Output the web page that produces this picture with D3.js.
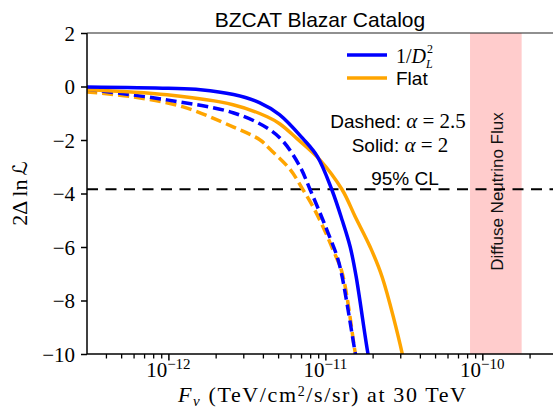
<!DOCTYPE html>
<html><head><meta charset="utf-8">
<script src="https://cdn.jsdelivr.net/npm/d3@7"></script>
<style>body{margin:0;background:#fff}svg{display:block}</style>
</head><body><svg id="c" width="553" height="410"></svg>
<script>
// ---- data ----
const blueSolidF = [3.0e-13, 1.0e-12, 1.6e-12, 2.6e-12, 3.8e-12, 5.1e-12, 7.2e-12, 8.9e-12, 1.1e-11, 1.28e-11, 1.44e-11, 1.57e-11, 1.87e-11, 1.95e-11];
const blueSolidV = [-0.02, -0.07, -0.12, -0.3, -0.6, -1.05, -1.95, -2.62, -3.86, -5.0, -6.0, -7.1, -10.0, -10.5];
const orangeSolidF = [3.0e-13, 9.8e-13, 2.58e-12, 4.26e-12, 5.14e-12, 6.6e-12, 9.23e-12, 1.28e-11, 1.55e-11, 1.93e-11, 2.30e-11, 3.08e-11, 3.2e-11];
const orangeSolidV = [-0.12, -0.31, -0.68, -1.13, -1.4, -1.95, -2.74, -3.86, -4.87, -6.0, -7.12, -9.96, -10.5];
const blueDashedF = [3.0e-13, 9.8e-13, 2.58e-12, 4.26e-12, 5.38e-12, 6.9e-12, 8.0e-12, 9.25e-12, 1.04e-11, 1.19e-11, 1.28e-11, 1.55e-11, 1.6e-11];
const blueDashedV = [-0.1, -0.5, -0.98, -1.55, -2.05, -3.0, -3.86, -4.73, -5.47, -6.37, -7.12, -9.96, -10.4];
const orangeDashedF = [3.0e-13, 5.97e-13, 1.24e-12, 2.58e-12, 3.84e-12, 4.45e-12, 5.96e-12, 7.1e-12, 8.35e-12, 9.67e-12, 1.12e-11, 1.28e-11, 1.55e-11, 1.6e-11];
const orangeDashedV = [-0.2, -0.39, -0.76, -1.51, -2.0, -2.35, -3.1, -3.8, -4.5, -5.25, -6.11, -6.97, -9.96, -10.4];
const clLevel = -3.84;
const bandRange = [8.35e-11, 1.78e-10];
const xMajorTicks = [1e-12, 1e-11, 1e-10];
const xMajorExp = ["−12", "−11", "−10"];
const yTicks = [-10, -8, -6, -4, -2, 0, 2];
const xDomain = [3.03e-13, 2.82e-10];
const yDomain = [-10, 2];

// ---- layout ----
const L = 87, R = 553, T = 33, B = 354;
const svg = d3.select("#c");
const x = d3.scaleLog().domain(xDomain).range([L, R]);
const y = d3.scaleLinear().domain(yDomain).range([B, T]);
const serif = "'Liberation Serif','DejaVu Serif',serif";
const sans = "'Liberation Sans','DejaVu Sans',sans-serif";

svg.append("defs").append("clipPath").attr("id", "clip")
  .append("rect").attr("x", L).attr("y", T).attr("width", R - L).attr("height", B - T);

// band
svg.append("rect").attr("x", x(bandRange[0])).attr("y", T)
  .attr("width", x(bandRange[1]) - x(bandRange[0])).attr("height", B - T)
  .attr("fill", "#ffcccc");

// band label
svg.append("text")
  .attr("transform", `translate(${(x(bandRange[0]) + x(bandRange[1])) / 2 + 7},${(T + B) / 2 - 2}) rotate(-90)`)
  .attr("text-anchor", "middle").attr("font-family", sans).attr("font-size", 17)
  .attr("fill", "#111").text("Diffuse Neutrino Flux");

// CL line
svg.append("line").attr("x1", L).attr("x2", R).attr("y1", y(clLevel)).attr("y2", y(clLevel))
  .attr("stroke", "#000").attr("stroke-width", 2).attr("stroke-dasharray", "11,7.5");

// curves
const line = d3.line().x(d => x(d[0])).y(d => y(d[1])).curve(d3.curveCatmullRom.alpha(0.5));
const g = svg.append("g").attr("clip-path", "url(#clip)");
const series = [
  {F: orangeDashedF, V: orangeDashedV, c: "#ffa500", dash: "11,5"},
  {F: blueDashedF, V: blueDashedV, c: "#0000ff", dash: "11,5"},
  {F: orangeSolidF, V: orangeSolidV, c: "#ffa500", dash: null},
  {F: blueSolidF, V: blueSolidV, c: "#0000ff", dash: null},
];
series.forEach(s => {
  g.append("path").attr("d", line(s.F.map((f, i) => [f, s.V[i]])))
    .attr("fill", "none").attr("stroke", s.c).attr("stroke-width", 3.5)
    .attr("stroke-dasharray", s.dash);
});

// x axis minor ticks
const minor = [];
for (let e = -13; e <= -10; e++) for (let k = 2; k <= 9; k++) {
  const v = k * Math.pow(10, e);
  if (v > xDomain[0] && v < xDomain[1]) minor.push(v);
}
svg.append("g").attr("transform", `translate(0,${B})`)
  .call(d3.axisBottom(x).tickValues(minor).tickSize(4.5).tickFormat(""))
  .call(a => a.select(".domain").remove())
  .call(a => a.selectAll("line").attr("stroke-width", 1.3));
svg.append("g").attr("transform", `translate(0,${B})`)
  .call(d3.axisBottom(x).tickValues(xMajorTicks).tickSize(6.5).tickFormat(""))
  .call(a => a.select(".domain").remove())
  .call(a => a.selectAll("line").attr("stroke-width", 1.5));
xMajorTicks.forEach((t, i) => {
  const tx = svg.append("text").attr("x", x(t)).attr("y", 377)
    .attr("text-anchor", "middle").attr("font-family", serif).attr("font-size", 21);
  tx.append("tspan").text("10");
  tx.append("tspan").attr("font-size", 15).attr("dy", -8).text(xMajorExp[i]);
});

// y axis
svg.append("g").attr("transform", `translate(${L},0)`)
  .call(d3.axisLeft(y).tickValues(yTicks).tickSize(6).tickPadding(6)
    .tickFormat(d => d < 0 ? "−" + (-d) : String(d)))
  .call(a => a.select(".domain").remove())
  .call(a => a.selectAll("line").attr("stroke-width", 1.5))
  .call(a => a.selectAll("text").attr("font-family", serif).attr("font-size", 21)
    .attr("fill", "#000").attr("dy", "0.34em"));

// spines
svg.append("line").attr("x1", L).attr("x2", L).attr("y1", T).attr("y2", B).attr("stroke", "#000").attr("stroke-width", 1.5);
svg.append("line").attr("x1", L).attr("x2", R).attr("y1", B).attr("y2", B).attr("stroke", "#000").attr("stroke-width", 1.5);
svg.append("line").attr("x1", L).attr("x2", R).attr("y1", T).attr("y2", T).attr("stroke", "#222").attr("stroke-width", 1.2);

// title
svg.append("text").attr("x", (L + R) / 2).attr("y", 27).attr("text-anchor", "middle")
  .attr("font-family", sans).attr("font-size", 21).text("BZCAT Blazar Catalog");

// x label
const xl = svg.append("text").attr("x", 322).attr("y", 402).attr("text-anchor", "middle")
  .attr("font-family", serif).attr("font-size", 22)
  .attr("textLength", 288).attr("lengthAdjust", "spacing");
xl.append("tspan").attr("font-style", "italic").text("F");
xl.append("tspan").attr("font-style", "italic").attr("font-size", 15).attr("dy", 4).text("ν");
xl.append("tspan").attr("dy", -4).text(" (TeV/cm");
xl.append("tspan").attr("font-size", 14).attr("dy", -6).text("2");
xl.append("tspan").attr("dy", 6).text("/s/sr) at 30 TeV");

// y label
const yl = svg.append("text").attr("transform", `translate(27,${(T + B) / 2}) rotate(-90)`)
  .attr("text-anchor", "middle").attr("font-family", serif).attr("font-size", 22);
yl.append("tspan").text("2Δ");
yl.append("tspan").attr("dx", 4).text("ln");
yl.append("tspan").attr("dx", 4).attr("font-family", "'DejaVu Sans',sans-serif").attr("font-size", 20).text("ℒ");

// legend
const legend = [{c: "#0000ff", y: 55}, {c: "#ffa500", y: 78}];
legend.forEach(d => svg.append("line").attr("x1", 347).attr("x2", 387).attr("y1", d.y).attr("y2", d.y)
  .attr("stroke", d.c).attr("stroke-width", 3.5));
const l1 = svg.append("text").attr("x", 396).attr("y", 63).attr("font-family", serif).attr("font-size", 20);
l1.append("tspan").text("1/");
l1.append("tspan").attr("font-style", "italic").text("D");
const l1w = l1.node().getComputedTextLength();
svg.append("text").attr("x", 396 + l1w + 1).attr("y", 53).attr("font-family", serif).attr("font-size", 12).text("2");
svg.append("text").attr("x", 396 + l1w).attr("y", 68).attr("font-family", serif).attr("font-style", "italic").attr("font-size", 12).text("L");
svg.append("text").attr("x", 396).attr("y", 85).attr("font-family", sans).attr("font-size", 19).text("Flat");

// annotations
function annot(label, val, cx, by) {
  const t = svg.append("text").attr("x", cx).attr("y", by).attr("text-anchor", "middle").attr("font-size", 19);
  t.append("tspan").attr("font-family", sans).text(label + " ");
  t.append("tspan").attr("font-family", serif).attr("font-style", "italic").attr("font-size", 21).text("α");
  t.append("tspan").attr("font-family", serif).attr("font-size", 21).text(" = " + val);
}
annot("Dashed:", "2.5", 398, 128);
annot("Solid:", "2", 400, 152);
svg.append("text").attr("x", 405).attr("y", 185).attr("text-anchor", "middle")
  .attr("font-family", sans).attr("font-size", 19).text("95% CL");
</script></body></html>
